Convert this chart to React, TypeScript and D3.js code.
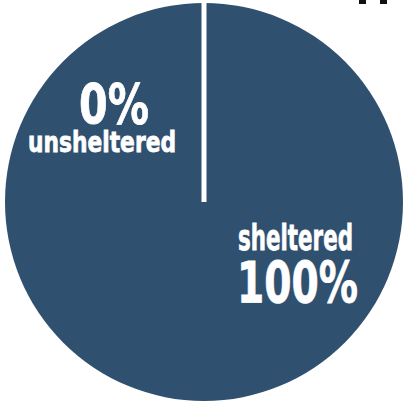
import React from "react";
import * as d3 from "d3";

const categories = ["unsheltered", "sheltered"];
const values = [0, 100];
const labels = ["0%", "100%"];

const W = 404;
const H = 402;

export default function App() {
  const cx = 204;
  const cy = 202;
  const r = 199;
  const pie = d3.pie<number>().sort(null).value((d) => d);
  const arcs = pie(values);
  const arcGen = d3.arc<d3.PieArcDatum<number>>().innerRadius(0).outerRadius(r);
  const font = "'DejaVu Sans', 'Open Sans', sans-serif";
  const edge = d3.pointRadial(arcs[0].startAngle, r);
  return (
    <svg
      width={W}
      height={H}
      style={{ position: "absolute", left: 0, top: 0, background: "#fff" }}
    >
      <g transform={`translate(${cx},${cy})`}>
        {arcs.map((a, i) => (
          <path
            key={categories[i]}
            d={arcGen(a) || ""}
            fill="#30506F"
            stroke="none"
          />
        ))}
        <line x1={0} y1={0} x2={edge[0]} y2={edge[1] - 2} stroke="#fff" strokeWidth={5} />
      </g>
      <rect x={359} y={0} width={7} height={4} fill="#111" />
      <rect x={380} y={0} width={7} height={4} fill="#111" />
      <g fill="#fff" stroke="#fff" strokeWidth={0.8} fontFamily={font} fontWeight="bold">
        <text x={79} y={123} fontSize={56} textLength={70} lengthAdjust="spacingAndGlyphs">
          {labels[0]}
        </text>
        <text x={28} y={152} fontSize={29} textLength={148} lengthAdjust="spacingAndGlyphs">
          {categories[0]}
        </text>
        <text x={238} y={250} fontSize={36} textLength={115} lengthAdjust="spacingAndGlyphs">
          {categories[1]}
        </text>
        <text x={237} y={303} fontSize={57} textLength={121} lengthAdjust="spacingAndGlyphs">
          {labels[1]}
        </text>
      </g>
    </svg>
  );
}
